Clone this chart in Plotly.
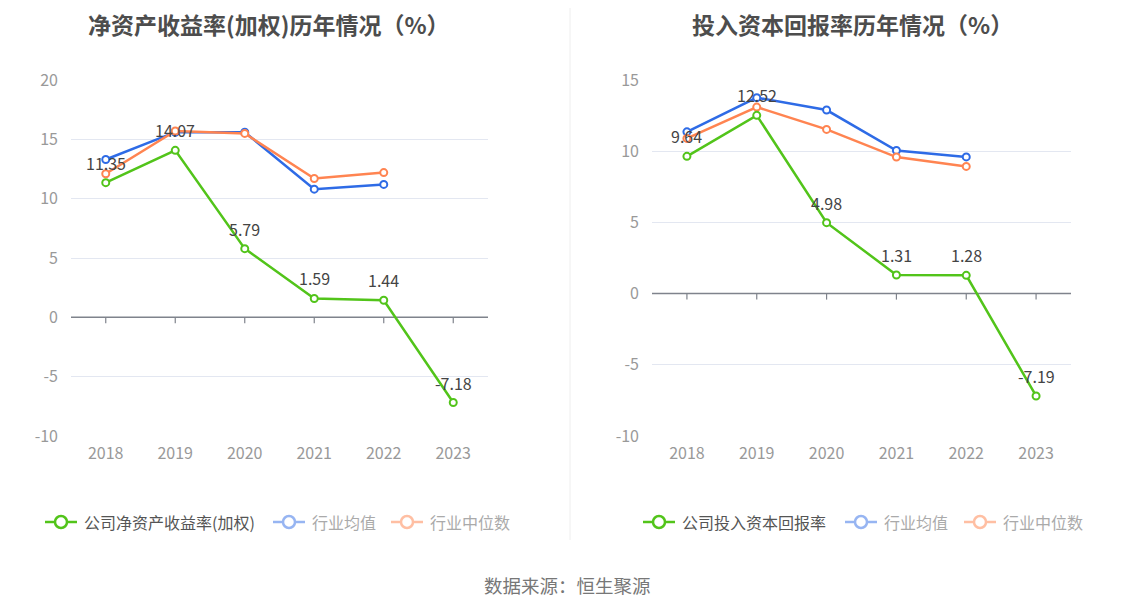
import plotly.graph_objects as go

years = ["2018", "2019", "2020", "2021", "2022", "2023"]

roe_company = [11.35, 14.07, 5.79, 1.59, 1.44, -7.18]
roe_ind_mean = [13.3, 15.6, 15.6, 10.8, 11.2]
roe_ind_median = [12.1, 15.7, 15.5, 11.7, 12.2]

roic_company = [9.64, 12.52, 4.98, 1.31, 1.28, -7.19]
roic_ind_mean = [11.36, 13.76, 12.89, 10.05, 9.6]
roic_ind_median = [10.9, 13.1, 11.53, 9.59, 8.93]

left_ticks = [-10, -5, 0, 5, 10, 15, 20]
right_ticks = [-10, -5, 0, 5, 10, 15]

titles = ["净资产收益率(加权)历年情况（%）", "投入资本回报率历年情况（%）"]
legend_left = ["公司净资产收益率(加权)", "行业均值", "行业中位数"]
legend_right = ["公司投入资本回报率", "行业均值", "行业中位数"]
source = "数据来源：恒生聚源"

GREEN = "#52c41a"
BLUE = "#2e6be6"
ORANGE = "#ff8451"
FONT = "Noto Sans CJK SC"

W, H = 1134, 612
OFF = 8  # page offset of the figure in the photographed window
fig = go.Figure()


def px(x):
    return (x - OFF) / W


def py(y):
    return 1 - (y - OFF) / H


labels_ann = []


def add_series(xa, ya, x, y, color, labels=False):
    fig.add_trace(go.Scatter(
        x=x, y=y, xaxis=xa, yaxis=ya, mode="lines+markers",
        line=dict(color=color, width=2.5),
        marker=dict(symbol="circle", size=7, color="white", line=dict(color=color, width=2)),
        showlegend=False, hoverinfo="x+y", cliponaxis=False,
    ))
    if labels:
        for i, yv in enumerate(y):
            labels_ann.append(dict(x=i, y=yv, xref=xa, yref=ya, text=f"{yv:.2f}",
                                   showarrow=False, yshift=20, xanchor="center",
                                   yanchor="middle", borderpad=0,
                                   font=dict(family=FONT, size=16, color="#444")))


add_series("x", "y", years[:5], roe_ind_mean, BLUE)
add_series("x", "y", years[:5], roe_ind_median, ORANGE)
add_series("x", "y", years, roe_company, GREEN, labels=True)
add_series("x2", "y2", years[:5], roic_ind_mean, BLUE)
add_series("x2", "y2", years[:5], roic_ind_median, ORANGE)
add_series("x2", "y2", years, roic_company, GREEN, labels=True)

ydom = [py(436), py(80)]
axis_common = dict(tickfont=dict(family=FONT, size=16, color="#999"), automargin=False)


def yax(ticks, xa):
    return dict(domain=ydom, range=[ticks[0], ticks[-1]], tickvals=ticks,
                ticktext=[str(t) for t in ticks], showgrid=True,
                gridcolor="#e3e7f1", gridwidth=1, zeroline=False, showline=False,
                ticks="", ticklabelstandoff=12, anchor=xa, **axis_common)


def xax(dom, ya):
    return dict(domain=dom, type="category", range=[-0.5, 5.5], showgrid=False,
                zeroline=False, showline=False, ticks="", ticklabelstandoff=6,
                anchor=ya, **axis_common)


fig.update_layout(
    width=W, height=H, margin=dict(l=0, r=0, t=0, b=0, pad=0, autoexpand=False),
    paper_bgcolor="white", plot_bgcolor="white",
    xaxis=xax([px(71), px(488)], "y"),
    yaxis=yax(left_ticks, "x"),
    xaxis2=xax([px(652), px(1071)], "y2"),
    yaxis2=yax(right_ticks, "x2"),
    showlegend=False,
)

shapes = []
annotations = list(labels_ann)
# zero axis lines and tick marks
for xr, yr in (("x", "y"), ("x2", "y2")):
    shapes.append(dict(type="line", xref=xr, yref=yr, x0=-0.5, x1=5.5, y0=0, y1=0,
                       line=dict(color="#7f838c", width=1.5), layer="between"))
    for i in range(len(years)):
        shapes.append(dict(type="line", xref=xr, yref=yr, x0=i, x1=i,
                           ysizemode="pixel", yanchor=0, y0=0, y1=-6,
                           line=dict(color="#7f838c", width=1.2), layer="between"))

# divider
shapes.append(dict(type="line", xref="paper", yref="paper", x0=px(570), x1=px(570),
                   y0=py(540), y1=1, line=dict(color="#eeeeee", width=1)))

# titles
for t, cx in zip(titles, (269, 852)):
    annotations.append(dict(text=f"<b>{t}</b>", xref="paper", yref="paper", x=px(cx), y=py(24),
                            xanchor="center", yanchor="middle", showarrow=False, borderpad=0,
                            font=dict(family=FONT, size=23, color="#4d4d4d")))


# legends
def legend_item(cx, label, color, textcolor):
    y = py(522)
    shapes.append(dict(type="line", xref="paper", yref="paper", x0=px(cx - 16), x1=px(cx + 16),
                       y0=y, y1=y, line=dict(color=color, width=2.5)))
    shapes.append(dict(type="circle", xref="paper", yref="paper",
                       xsizemode="pixel", ysizemode="pixel", xanchor=px(cx), yanchor=y,
                       x0=-6, x1=6, y0=-6, y1=6,
                       fillcolor="white", line=dict(color=color, width=2.5)))
    annotations.append(dict(text=label, xref="paper", yref="paper", x=px(cx + 21), y=y,
                            xanchor="left", yanchor="middle", showarrow=False,
                            font=dict(family=FONT, size=16, color=textcolor)))


LGREEN, LBLUE, LORANGE = GREEN, "#97b5f2", "#ffbfa3"
legend_item(61, legend_left[0], LGREEN, "#555")
legend_item(289, legend_left[1], LBLUE, "#aaa")
legend_item(407, legend_left[2], LORANGE, "#aaa")
legend_item(659, legend_right[0], LGREEN, "#555")
legend_item(861, legend_right[1], LBLUE, "#aaa")
legend_item(980, legend_right[2], LORANGE, "#aaa")

annotations.append(dict(text=source, xref="paper", yref="paper", x=px(567), y=py(585),
                        xanchor="center", yanchor="middle", showarrow=False,
                        font=dict(family=FONT, size=18.5, color="#777")))

fig.update_layout(shapes=shapes, annotations=annotations)
fig.write_html("out.html")
